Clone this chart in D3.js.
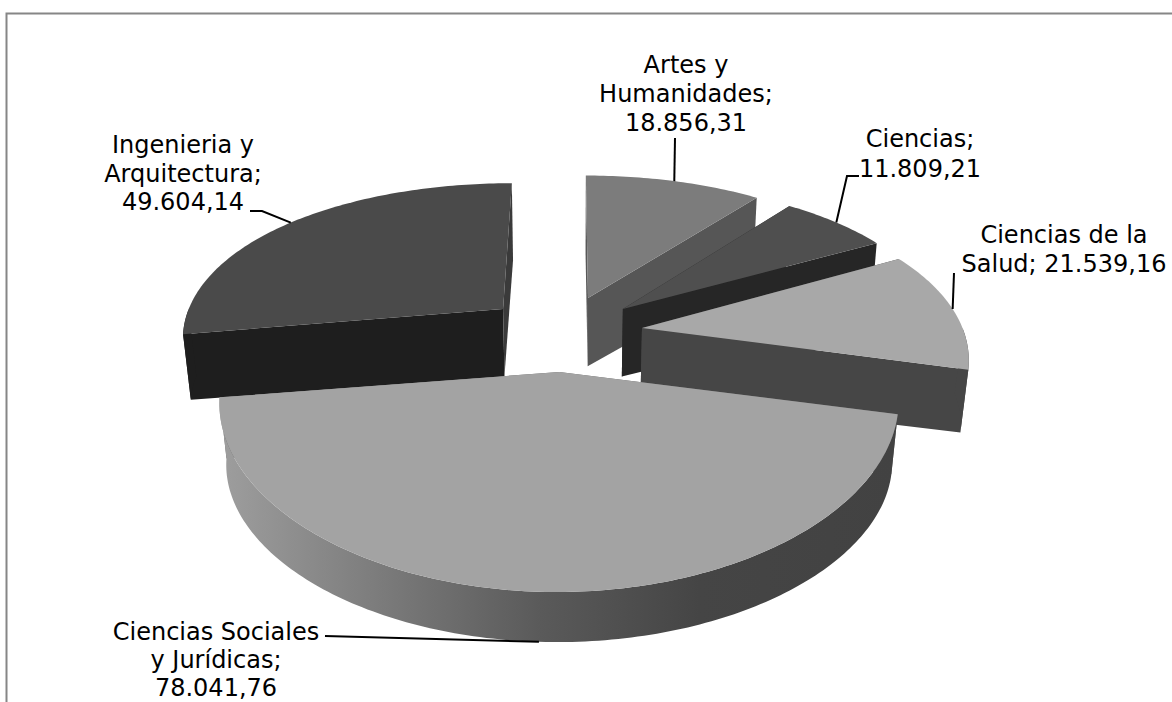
<!DOCTYPE html>
<html><head><meta charset="utf-8">
<script src="https://cdn.jsdelivr.net/npm/d3@7/dist/d3.min.js"></script>
<style>html,body{margin:0;padding:0;background:#fff;overflow:hidden}svg{display:block}text{font-family:"DejaVu Sans",Verdana,sans-serif;font-size:24px;fill:#000}</style>
</head><body><svg id="c" width="1172" height="702"></svg>
<script>
// --- data ---
const categories = ["Artes y Humanidades","Ciencias","Ciencias de la Salud","Ciencias Sociales y Jurídicas","Ingenieria y Arquitectura"];
const values = [18856.31,11809.21,21539.16,78041.76,49604.14];
const labelLines = [["Artes y","Humanidades;","18.856,31"],["Ciencias;","11.809,21"],["Ciencias de la","Salud; 21.539,16"],["Ciencias Sociales","y Jurídicas;","78.041,76"],["Ingenieria y","Arquitectura;","49.604,14"]];
// --- style and layout per slice ---
const topColors = ["#7c7c7c","#4f4f4f","#a8a8a8","#a3a3a3","#4a4a4a"];
const startWallColors = ["#585858","#262626","#464646","#666666","#1e1e1e"];
const endWallColors = ["#565656","#262626","#464646","#666666","#3a3a3a"];
const outerWallFills = ["#555555","#262626","#464646","url(#sideGrad)","#1e1e1e"];
const explodeX = [0.0547,0.165,0.2215,-0.035,-0.216];  // plane offset, in radii
const explodeW = [5.147,5.073,4.95,4.687,5.073];       // perspective depth of each apex
const topDepthRadius = [1,1,1,0.985,1];
const wedgeExtra = [0,0,0,0.02,0];
const paintOrder = [0,1,4,2,3];
const labelX = [686,920,1064,216,183];
const labelY = [73,147,243,640,153];
const labelGap = [29,29.5,29,28,28.5];
const leaderVia = [[[675,138]],[[859,176],[847,176]],[[954,273]],[[325,636]],[[250,211],[262,211]]];
const leaderOnBottom = [false,false,false,true,false];

const svg = d3.select("#c");
const defs = svg.append("defs");
const grad = defs.append("linearGradient").attr("id","sideGrad").attr("gradientUnits","userSpaceOnUse").attr("x1",220).attr("x2",895).attr("y1",0).attr("y2",0);
[[0,"#9e9e9e"],[0.267,"#777777"],[0.474,"#5a5a5a"],[0.71,"#454545"],[1,"#424242"]].forEach(s=>grad.append("stop").attr("offset",s[0]).attr("stop-color",s[1]));

// frame
svg.append("path").attr("d",d3.line()([[6.5,702],[6.5,13.5],[1172,13.5]])).attr("fill","none").attr("stroke","#868686").attr("stroke-width",2);

// perspective projection of the pie plane
const vanishX = 571;
const proj = {
  top:(X,w)=>[vanishX+X*(1250/w+68), -455+3876/w],
  bot:(X,w)=>[vanishX+0.98*X*(1250/w+68), -330+3584/w]
};
const pie = d3.pie().sort(null).startAngle(0).endAngle(2*Math.PI);
const arcs = pie(values);
const pt = (i,a,face)=>proj[face](explodeX[i]+Math.sin(a), explodeW[i]+(face==="top"?topDepthRadius[i]:1)*Math.cos(a));
const apex = (i,face)=>proj[face](explodeX[i],explodeW[i]);
const arcPts = (i,a0,a1,face)=>{const n=Math.max(2,Math.ceil((a1-a0)*60));const s=d3.scaleLinear().domain([0,n]).range([a0,a1]);return d3.range(n+1).map(k=>pt(i,s(k),face));};
const line = d3.line();
const closed = p=>line(p)+"Z";

paintOrder.forEach(i=>{
  const d=arcs[i], g=svg.append("g").attr("class","slice").attr("data-cat",categories[i]);
  const sa=d.startAngle-wedgeExtra[i], ea=d.endAngle+wedgeExtra[i];
  // radial walls
  [[sa,startWallColors[i]],[ea,endWallColors[i]]].forEach(([a,c])=>{
    g.append("path").attr("d",closed([apex(i,"top"),pt(i,a,"top"),pt(i,a,"bot"),apex(i,"bot")])).attr("fill",c);
  });
  // outer wall (only the part that faces the viewer)
  const a0=Math.max(sa,Math.PI/2), a1=Math.min(ea,3*Math.PI/2);
  if(a1>a0){
    g.append("path").attr("d",closed(arcPts(i,a0,a1,"top").concat(arcPts(i,a0,a1,"bot").reverse()))).attr("fill",outerWallFills[i]);
  }
  // top face
  g.append("path").attr("d",closed([apex(i,"top")].concat(arcPts(i,sa,ea,"top")))).attr("fill",topColors[i]);
});

// leaders and labels
arcs.forEach((d,i)=>{
  const mid=(d.startAngle+d.endAngle)/2;
  const anchor=pt(i,mid,leaderOnBottom[i]?"bot":"top");
  svg.append("path").attr("d",line(leaderVia[i].concat([anchor]))).attr("fill","none").attr("stroke","#000").attr("stroke-width",2);
  const t=svg.append("text").attr("text-anchor","middle");
  labelLines[i].forEach((s,k)=>t.append("tspan").attr("x",labelX[i]).attr("y",labelY[i]+k*labelGap[i]).text(s));
});
</script></body></html>
